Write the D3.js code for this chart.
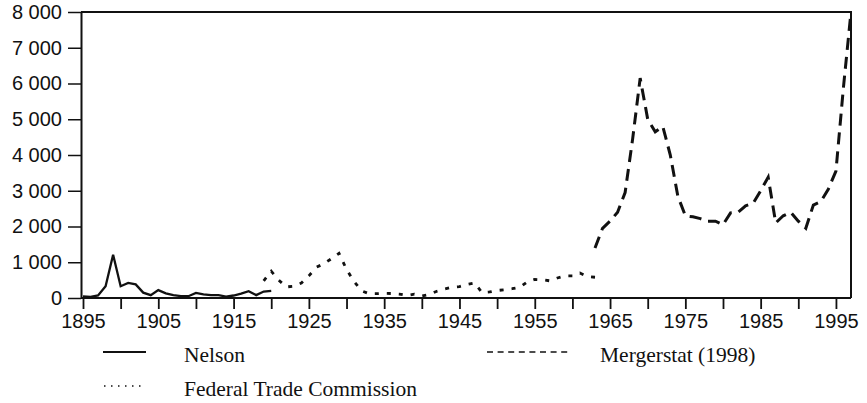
<!DOCTYPE html>
<html>

<head>
    <script src="https://d3js.org/d3.v7.min.js"></script>
    <style>
        body { margin: 0; background: #fff; }
    </style>
    <script>
        // number of mergers per year, three sources
        const nelsonYears = [1895, 1896, 1897, 1898, 1899, 1900, 1901, 1902, 1903, 1904, 1905, 1906, 1907,
            1908, 1909, 1910, 1911, 1912, 1913, 1914, 1915, 1916, 1917, 1918, 1919, 1920]
        const nelsonValues = [45, 30, 70, 330, 1210, 330, 420, 380, 150, 80, 220, 130, 80,
            50, 50, 140, 100, 80, 80, 40, 70, 120, 190, 80, 180, 200]

        const ftcYears = [1919, 1920, 1921, 1922, 1923, 1924, 1925, 1926, 1927, 1928, 1929, 1930, 1931,
            1932, 1933, 1934, 1935, 1936, 1937, 1938, 1939, 1940, 1941, 1942, 1943, 1944, 1945, 1946,
            1947, 1948, 1949, 1950, 1951, 1952, 1953, 1954, 1955, 1956, 1957, 1958, 1959, 1960, 1961,
            1962, 1963]
        const ftcValues = [480, 750, 500, 310, 330, 420, 620, 860, 960, 1100, 1250, 800, 460,
            200, 120, 120, 130, 126, 110, 70, 110, 60, 100, 190, 250, 300, 320, 380,
            420, 150, 170, 210, 230, 260, 300, 450, 520, 510, 480, 560, 620, 620, 700,
            600, 580]

        const mergerstatYears = [1963, 1964, 1965, 1966, 1967, 1968, 1969, 1970, 1971, 1972, 1973, 1974,
            1975, 1976, 1977, 1978, 1979, 1980, 1981, 1982, 1983, 1984, 1985, 1986, 1987, 1988, 1989,
            1990, 1991, 1992, 1993, 1994, 1995, 1996, 1997]
        const mergerstatValues = [1400, 1950, 2150, 2400, 2950, 4450, 6150, 5000, 4650, 4800, 4000, 2850,
            2300, 2270, 2220, 2150, 2150, 2050, 2380, 2400, 2580, 2650, 3000, 3380, 2100, 2300, 2400,
            2150, 1950, 2600, 2700, 3050, 3550, 5900, 8000]

        const yTicks = [0, 1000, 2000, 3000, 4000, 5000, 6000, 7000, 8000]
        const xTicks = [1895, 1900, 1905, 1910, 1915, 1920, 1925, 1930, 1935, 1940, 1945, 1950,
            1955, 1960, 1965, 1970, 1975, 1980, 1985, 1990, 1995]
        const xTickLabels = [1895, 1905, 1915, 1925, 1935, 1945, 1955, 1965, 1975, 1985, 1995]

        const legendNames = ["Nelson", "Federal Trade Commission", "Mergerstat (1998)"]

        const plot = { left: 81, right: 851, top: 12, bottom: 298 }
        const sansFont = "'Liberation Sans', Arial, sans-serif"
        const serifFont = "'Liberation Serif', 'Times New Roman', serif"

        function drawChart() {
            const svg = d3.select("#chart")

            const x = d3.scaleLinear().domain([1895, 1997]).range([83, plot.right])
            const y = d3.scaleLinear().domain([0, 8000]).range([plot.bottom, plot.top])

            // frame (top + right), left and bottom come from the axes
            svg.append("path")
                .attr("d", `M${plot.left},${plot.top}H${plot.right}V${plot.bottom}`)
                .attr("fill", "none")
                .attr("stroke", "#111")
                .attr("stroke-width", 2)

            const yAxis = svg.append("g")
                .attr("transform", `translate(${plot.left},0)`)
                .call(d3.axisLeft(y).tickValues(yTicks).tickSize(13).tickPadding(6).tickSizeOuter(0)
                    .tickFormat(d => d3.format(",")(d).replace(",", " ")))
            yAxis.select(".domain").attr("stroke", "#111").attr("stroke-width", 2)
            yAxis.selectAll(".tick line").attr("stroke", "#111").attr("stroke-width", 1.5)
            yAxis.selectAll("text")
                .attr("font-family", sansFont)
                .attr("font-size", 20)
                .attr("fill", "#111")

            const xAxis = svg.append("g")
                .attr("transform", `translate(0,${plot.bottom})`)
                .call(d3.axisBottom(x).tickValues(xTicks).tickSize(11).tickPadding(5).tickSizeOuter(0)
                    .tickFormat(d => xTickLabels.includes(d) ? d : ""))
            xAxis.select(".domain")
                .attr("d", `M${plot.left},0H${plot.right}`)
                .attr("stroke", "#111").attr("stroke-width", 2)
            xAxis.selectAll(".tick line").attr("stroke", "#111").attr("stroke-width", 1.8)
            xAxis.selectAll("text")
                .attr("font-family", sansFont)
                .attr("font-size", 20)
                .attr("fill", "#111")

            const line = d3.line().x(d => x(d.year)).y(d => y(d.value))
            const toPoints = (years, values) => years.map((yr, i) => ({ year: yr, value: values[i] }))

            svg.append("path")
                .datum(toPoints(ftcYears, ftcValues))
                .attr("d", line)
                .attr("fill", "none")
                .attr("stroke", "#111")
                .attr("stroke-width", 2.8)
                .attr("stroke-dasharray", "4 8")

            svg.append("path")
                .datum(toPoints(mergerstatYears, mergerstatValues))
                .attr("d", line)
                .attr("fill", "none")
                .attr("stroke", "#111")
                .attr("stroke-width", 3)
                .attr("stroke-dasharray", "12 7")

            svg.append("path")
                .datum(toPoints(nelsonYears, nelsonValues))
                .attr("d", line)
                .attr("fill", "none")
                .attr("stroke", "#111")
                .attr("stroke-width", 2.3)

            // legend
            const legend = [
                { name: legendNames[0], x1: 103, x2: 146, tx: 184, ty: 362, dash: null, w: 2 },
                { name: legendNames[1], x1: 104, x2: 146, tx: 184, ty: 396, dash: "1.5 5.5", w: 1.5 },
                { name: legendNames[2], x1: 487, x2: 570, tx: 600, ty: 362, dash: "6 4.6", w: 1.3 }
            ]
            legend.forEach(item => {
                svg.append("line")
                    .attr("x1", item.x1).attr("x2", item.x2)
                    .attr("y1", item.ty - 10).attr("y2", item.ty - 10)
                    .attr("stroke", "#111")
                    .attr("stroke-width", item.w)
                    .attr("stroke-dasharray", item.dash)
                svg.append("text")
                    .text(item.name)
                    .attr("x", item.tx)
                    .attr("y", item.ty)
                    .attr("font-family", serifFont)
                    .attr("font-size", 21.5)
                    .attr("fill", "#111")
            })
        }
    </script>
</head>

<body onload="drawChart()">
    <svg id="chart" width="867" height="403"></svg>
</body>

</html>
